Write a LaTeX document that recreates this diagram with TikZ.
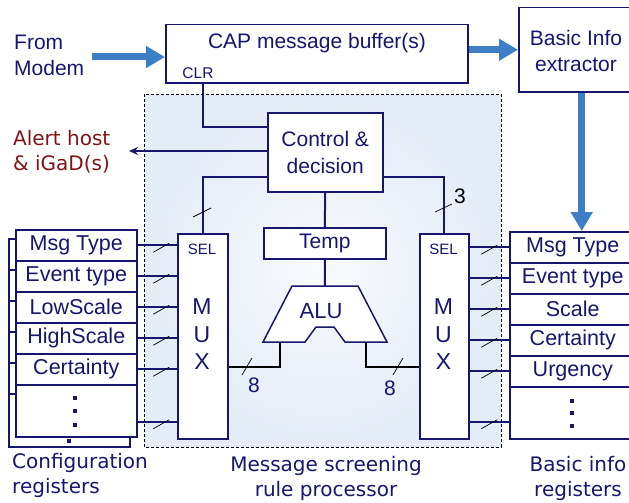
\documentclass[tikz,border=0pt]{standalone}
\usepackage{fontspec}
\setmainfont{Liberation Sans}
\newfontfamily\comicf{DejaVu Sans}
\usetikzlibrary{arrows.meta,calc}
\definecolor{navy}{RGB}{22,22,110}
\definecolor{sblue}{RGB}{62,126,196}
\definecolor{panelc}{RGB}{228,236,247}
\definecolor{alertred}{RGB}{128,20,20}
\newcommand{\myfs}[2]{\fontsize{#1}{#2}\selectfont}
\tikzset{
  box/.style={draw=navy, line width=1.5pt, fill=white, text=navy, inner sep=0pt},
  reg/.style={box, minimum width=121pt, minimum height=31pt, anchor=north west, font=\myfs{21.5}{24}},
  regR/.style={reg, minimum width=126pt},
  wire/.style={draw=navy, line width=2pt},
  bwire/.style={draw=black, line width=2.2pt},
  slash/.style={draw=black, line width=0.7pt},
  bluearrow/.style={draw=sblue, line width=7pt, -{Triangle[length=19pt,width=21pt]}},
  lbl/.style={text=navy, font=\myfs{21}{26}, align=center, inner sep=0pt},
  comic/.style={text=navy, font=\comicf\myfs{20}{25}, align=left, inner sep=0pt},
}
\begin{document}
\begin{tikzpicture}[x=1pt,y=-1pt]
\useasboundingbox (0,0) rectangle (629,503);
% panel
\shade[inner color=white!75!panelc, outer color=panelc] (144,94) rectangle (501,447);
\draw[black, line width=0.8pt, dash pattern=on 3pt off 2pt] (144,94) rectangle (501,447);

% top boxes
\node[box, minimum width=302pt, minimum height=58pt, anchor=north west] (buf) at (165,24) {};
\node[lbl] (buft) at (317,43) {CAP message buffer(s)};
\node[lbl, font=\myfs{15.5}{18}] (clr) at (198,73) {CLR};
\node[box, minimum width=118pt, minimum height=84pt, anchor=north west] (info) at (518,7) {};
\node[lbl, anchor=north] (infot) at (576,30) {Basic Info\\extractor};
\node[lbl, align=left, anchor=north west] (modem) at (14,35) {From\\Modem};
\coordinate (modemstart) at (92,57);
\draw[bluearrow] (modemstart) -- (modemstart -| buf.west);
\draw[bluearrow] (buf.east |- info.west) -- (info.west);

% control
\node[box, minimum width=115pt, minimum height=79pt, anchor=north west, font=\myfs{21}{27}, align=center] (ctrl) at (267,112) {Control \&\\decision};
\coordinate (clrpt) at (203,83);
\draw[wire] (clrpt) |- ([yshift=-15pt]ctrl.north west);
\coordinate (alerttip) at (129,151);
\draw[wire, -{Stealth[length=9pt,width=8pt]}] (ctrl.west |- alerttip) -- (alerttip);
\node[comic, text=alertred, anchor=north west] (alert) at (13,130) {Alert host\\\& iGaD(s)};

% temp and ALU
\node[box, minimum width=122pt, minimum height=31pt, anchor=north west, font=\myfs{21}{24}] (temp) at (263,227) {Temp};
\draw[wire] (ctrl.south) -- (temp.north);
\coordinate (alutop) at (325,286);
\draw[wire] (temp.south) -- (alutop);
\filldraw[fill=white, draw=navy, line width=1.5pt]
  (292,286) -- (358,286) -- (387,342) -- (345,342) -- (334,327) -- (316,327) -- (305,342) -- (263,342) -- cycle;
\node[lbl, font=\myfs{22}{24}] (alut) at (321,311) {ALU};

% muxes
\node[box, minimum width=50pt, minimum height=205pt, anchor=north west] (muxL) at (177,233) {};
\node[box, minimum width=49pt, minimum height=205pt, anchor=north west] (muxR) at (419,233) {};
\foreach \m/\x in {muxL/202, muxR/443.5} {
  \node[lbl, font=\myfs{15}{16}] (\m sel) at (\x,249) {SEL};
  \node[lbl, font=\myfs{23}{24}] (\m m) at (\x,307) {M};
  \node[lbl, font=\myfs{23}{24}] (\m u) at (\x,335) {U};
  \node[lbl, font=\myfs{23}{24}] (\m x) at (\x,362) {X};
}
% control to muxes
\draw[wire] ([yshift=16pt]ctrl.south west) -| (muxL.north);
\draw[wire] ([yshift=16pt]ctrl.south east) -| (muxR.north);
\draw[slash] (193,217) -- (211,208);
\draw[slash] (435,212) -- (452,204);
\node[lbl, text=black, font=\myfs{21}{24}] (three) at (460,196) {3};

% ALU to muxes
\coordinate (aluL) at (280,342);
\coordinate (aluR) at (366,342);
\draw[bwire] (aluL) |- (muxL.east |- 0,367);
\draw[bwire] (aluR) |- (muxR.west |- 0,367);
\draw[slash] (242,375) -- (252,358);
\draw[slash] (393,375) -- (403,358);
\node[lbl, font=\myfs{21}{24}] (eightL) at (254,385) {8};
\node[lbl, font=\myfs{21}{24}] (eightR) at (390,388) {8};

% left registers (back stack)
\filldraw[fill=white, draw=navy, line width=1.2pt] (9,239) rectangle (130,447);
\foreach \yy in {270,301,332,363,394} \draw[navy, line width=1.2pt] (9,\yy) -- (15,\yy);
\fill[navy] (67,439) rectangle (71,443);
% front stack
\foreach \t [count=\i] in {Msg Type, Event type, LowScale, HighScale, Certainty} {
  \node[reg] (rL\i) at (15,{229+31*(\i-1)}) {\t};
}
\node[reg, minimum height=52pt] (rL6) at (15,384) {};
\foreach \yy in {398,411,425} \fill[navy] (73,\yy-2) rectangle (77,\yy+2);
% right registers
\foreach \t [count=\i] in {Msg Type, Event type, Scale, Certainty, Urgency} {
  \node[regR] (rR\i) at (509,{231+31*(\i-1)}) {\t};
}
\node[regR, minimum height=52pt] (rR6) at (509,386) {};
\foreach \yy in {401,413,426} \fill[navy] (570,\yy-2) rectangle (574,\yy+2);
\draw[bluearrow] ([xshift=4pt]info.south) -- ([xshift=4pt]info.south |- rR1.north);

% register connections
\foreach \i in {1,...,5} {
  \draw[wire] (rL\i.east) -- (rL\i.east -| muxL.west);
  \draw[slash] ($(rL\i.east)!0.6!(rL\i.east -| muxL.west)$) ++(-8,7) -- ++(16,-9);
  \draw[wire] (rR\i.west) -- (rR\i.west -| muxR.east);
  \draw[slash] ($(rR\i.west)!0.5!(rR\i.west -| muxR.east)$) ++(-8,7) -- ++(16,-9);
}
\draw[wire] ([yshift=-11pt]rL6.east) -- ([yshift=-11pt]rL6.east -| muxL.west);
\draw[slash] ($([yshift=-11pt]rL6.east)!0.6!([yshift=-11pt]rL6.east -| muxL.west)$) ++(-8,7) -- ++(16,-9);
\draw[wire] ([yshift=-9pt]rR6.west) -- ([yshift=-9pt]rR6.west -| muxR.east);
\draw[slash] ($([yshift=-9pt]rR6.west)!0.5!([yshift=-9pt]rR6.west -| muxR.east)$) ++(-8,7) -- ++(16,-9);

% bottom captions
\node[comic, anchor=north west] (cfg) at (12,453) {Configuration\\registers};
\node[comic, align=center] (msp) at (326,478) {Message screening\\rule processor};
\node[comic, align=center] (bir) at (578,478) {Basic info\\registers};
\end{tikzpicture}
\end{document}
